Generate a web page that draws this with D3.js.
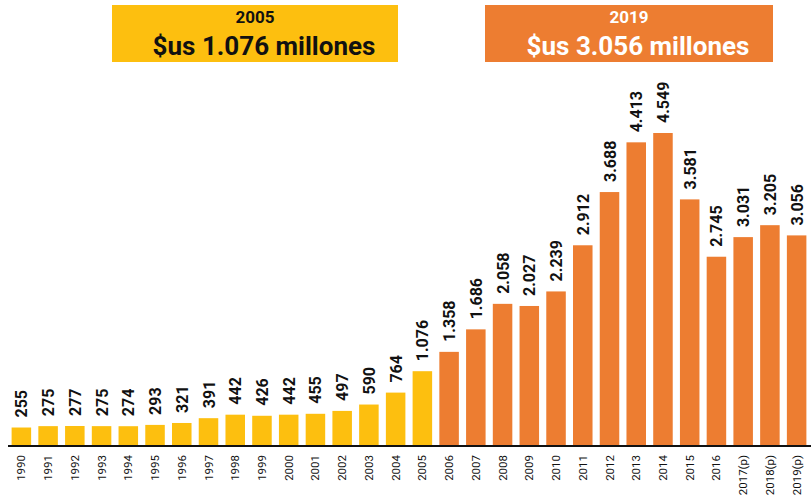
<!DOCTYPE html>
<html>
<head>
<meta charset="utf-8">
<script src="https://cdn.jsdelivr.net/npm/d3@7"></script>
<style>
  body { margin: 0; background: #fff; }
  svg { display: block; font-family: Roboto, "Liberation Sans", sans-serif; }
</style>
</head>
<body>
<div id="chart"></div>
<script>
const years = ["1990","1991","1992","1993","1994","1995","1996","1997","1998","1999",
  "2000","2001","2002","2003","2004","2005","2006","2007","2008","2009",
  "2010","2011","2012","2013","2014","2015","2016","2017(p)","2018(p)","2019(p)"];
const values = [255,275,277,275,274,293,321,391,442,426,
  442,455,497,590,764,1076,1358,1686,2058,2027,
  2239,2912,3688,4413,4549,3581,2745,3031,3205,3056];
const headers = [
  {year: "2005", text: "$us 1.076 millones"},
  {year: "2019", text: "$us 3.056 millones"}
];

const width = 811, height = 499;
const baseline = 445;
const yellow = "#FDBF0F", orange = "#ED7D31";

const svg = d3.select("#chart").append("svg")
    .attr("width", width)
    .attr("height", height);

// scales
const x = d3.scaleBand()
    .domain(years)
    .range([8, 810])
    .paddingInner(0.27)
    .paddingOuter(0.135);

const y = d3.scaleLinear()
    .domain([0, 4549])
    .range([baseline, 133]);

const fmt = v => d3.format(",")(v).replace(/,/g, ".");
const colorOf = (d, i) => i <= 15 ? yellow : orange;

// bars
svg.selectAll("rect.bar")
    .data(values)
    .enter().append("rect")
    .attr("class", "bar")
    .attr("x", (d, i) => x(years[i]))
    .attr("y", d => y(d))
    .attr("width", x.bandwidth())
    .attr("height", d => baseline - y(d))
    .attr("fill", colorOf);

// value labels
svg.selectAll("text.val")
    .data(values)
    .enter().append("text")
    .attr("class", "val")
    .attr("transform", (d, i) => `translate(${x(years[i]) + x.bandwidth() / 2 + 6}, ${y(d) - 10}) rotate(-90)`)
    .attr("text-anchor", "start")
    .attr("font-size", 16)
    .attr("font-weight", "bold")
    .attr("fill", "#111")
    .text(fmt);

// x axis
const xAxis = d3.axisBottom(x).tickSize(0).tickPadding(0);
const gx = svg.append("g")
    .attr("transform", `translate(0, ${baseline})`)
    .call(xAxis);
gx.select(".domain").remove();
gx.selectAll("text")
    .attr("font-size", 11.5)
    .attr("font-family", "Roboto, sans-serif")
    .attr("fill", "#111")
    .attr("text-anchor", "end")
    .attr("dy", null)
    .attr("transform", "translate(4, 10) rotate(-90)")
    .attr("y", 0);

svg.append("line")
    .attr("x1", 8).attr("x2", 811)
    .attr("y1", baseline + 1).attr("y2", baseline + 1)
    .attr("stroke", "#111")
    .attr("stroke-width", 2.2);

// header boxes
const boxes = [
  {x0: 112, x1: 398, fill: yellow, ink: "#111"},
  {x0: 485, x1: 773, fill: orange, ink: "#fff"}
];
boxes.forEach((b, i) => {
  svg.append("rect")
      .attr("x", b.x0).attr("y", 5)
      .attr("width", b.x1 - b.x0).attr("height", 57)
      .attr("fill", b.fill);
  const cx = (b.x0 + b.x1) / 2;
  svg.append("text")
      .attr("x", cx).attr("y", 23)
      .attr("text-anchor", "middle")
      .attr("font-size", 17).attr("font-weight", "bold")
      .attr("fill", b.ink)
      .text(headers[i].year);
  svg.append("text")
      .attr("x", cx + 9).attr("y", 55)
      .attr("text-anchor", "middle")
      .attr("font-size", 26).attr("font-weight", "bold")
      .attr("fill", b.ink)
      .text(headers[i].text);
});
</script>
</body>
</html>
